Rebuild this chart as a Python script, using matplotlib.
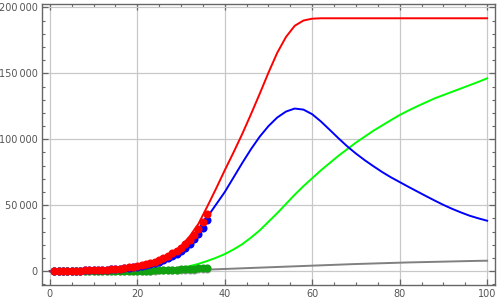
import numpy as np
import matplotlib.pyplot as plt
from matplotlib.ticker import MultipleLocator, FuncFormatter

# observed data, days 1..36
days = np.arange(1, 37)
cases_obs = [200, 250, 300, 350, 400, 450, 500, 600, 700, 800, 950, 1100, 1300, 1500, 1800, 2100,
             2500, 2900, 3400, 4000, 4700, 5500, 6400, 7400, 8600, 10000, 11600, 13500, 15500,
             17800, 20500, 23600, 27500, 32000, 37000, 43400]
active_obs = [200, 250, 300, 350, 400, 450, 500, 600, 690, 780, 910, 1040, 1200, 1360, 1610, 1850,
              2180, 2500, 2900, 3380, 3960, 4620, 5380, 6230, 7260, 8490, 9910, 11630, 13400,
              15460, 17910, 20710, 24250, 28380, 32950, 38900]
recovered_obs = [0, 0, 0, 0, 0, 0, 0, 0, 0, 0, 10, 20, 40, 60, 90, 120, 160, 200, 260, 330, 400,
                 480, 560, 650, 750, 850, 950, 1050, 1200, 1350, 1500, 1700, 1950, 2200, 2500, 2800]
deaths_obs = [0, 0, 0, 0, 0, 0, 0, 0, 10, 20, 30, 40, 60, 80, 100, 130, 160, 200, 240, 290, 340,
              400, 460, 520, 590, 660, 740, 820, 900, 990, 1090, 1190, 1300, 1420, 1550, 1700]

# model curves, every 2 days from 0 to 100
t = np.arange(0, 101, 2)
cases_fit = [100, 150, 200, 300, 450, 650, 900, 1300, 1800, 2600, 3600, 5000, 7000, 9800, 13500,
             19000, 26500, 36000, 49000, 62500, 76500, 90000, 104000, 119000, 134500, 150500,
             165500, 177500, 186000, 190000, 191400] + [191700] * 20
active_fit = [100, 140, 190, 280, 420, 600, 850, 1200, 1700, 2400, 3300, 4600, 6500, 9000, 12500,
              17500, 24000, 32000, 41000, 50500, 60000, 71000, 82000, 92500, 102000, 110000,
              116500, 121000, 123300, 122500, 119000, 113500, 107200, 100800, 94700, 89200, 84200,
              79600, 75200, 71200, 67600, 64000, 60500, 57000, 53600, 50300, 47300, 44600, 42100,
              40100, 38300]
recovered_fit = [0, 0, 0, 0, 10, 20, 40, 70, 120, 200, 320, 500, 800, 1200, 1800, 2700, 3900, 5600,
                 7800, 10200, 13000, 16500, 20500, 25500, 31000, 37500, 44000, 51000, 58000, 64500,
                 70500, 76500, 82000, 87500, 92500, 97500, 102000, 106500, 110500, 114500, 118400,
                 121800, 125000, 128000, 131000, 133500, 136000, 138500, 141000, 143500, 146200]
deaths_fit = [0, 0, 0, 10, 20, 40, 60, 90, 130, 180, 240, 310, 400, 500, 620, 750, 900, 1080, 1280,
              1500, 1750, 2000, 2250, 2500, 2750, 3000, 3250, 3500, 3750, 4000, 4250, 4500, 4750,
              5000, 5250, 5500, 5700, 5900, 6100, 6300, 6500, 6700, 6850, 7000, 7150, 7300, 7450,
              7600, 7750, 7900, 8000]

fig = plt.figure(figsize=(5, 3.02), dpi=100)
ax = fig.add_axes([0.0834, 0.0563, 0.9066, 0.9295])

lw = 1.4
ax.plot(t, deaths_fit, c='#808080', lw=lw, zorder=2)
ax.plot(t, recovered_fit, c='#00ff00', lw=lw, zorder=2)
ax.plot(t, active_fit, c='#0000ff', lw=lw, zorder=2)
ax.plot(t, cases_fit, c='#ff0000', lw=lw, zorder=2)

ms = 5.8
ax.plot(days, deaths_obs, 'o', c='#a0a0a0', ms=ms, mew=0, zorder=3)
ax.plot(days, recovered_obs, 'o', c='#10a010', ms=ms, mew=0, zorder=3)
ax.plot(days, active_obs, 'o', c='#0000ff', ms=ms, mew=0, zorder=3)
ax.plot(days, cases_obs, 'o', c='#ff0000', ms=ms, mew=0, zorder=3)

ax.set_xlim(-1.85, 101.8)
ax.set_ylim(-10400, 202300)

ax.xaxis.set_major_locator(MultipleLocator(20))
ax.xaxis.set_minor_locator(MultipleLocator(5))
ax.yaxis.set_major_locator(MultipleLocator(50000))
ax.yaxis.set_minor_locator(MultipleLocator(10000))
ax.yaxis.set_major_formatter(FuncFormatter(
    lambda v, p: '0' if v == 0 else f'{int(v):,}'.replace(',', '\u2009')))

ax.grid(True, which='major', color='#c8c8c8', lw=0.9, zorder=0)
ax.tick_params(which='both', direction='in', top=True, right=True,
               color='#666666', labelsize=7, labelcolor='#555555', pad=3)
ax.tick_params(which='major', length=4.5, width=0.9)
ax.tick_params(which='minor', length=2.5, width=0.8)
for s in ax.spines.values():
    s.set_color('#666666')
    s.set_linewidth(1.0)

fig.savefig('out.png', dpi=100)
